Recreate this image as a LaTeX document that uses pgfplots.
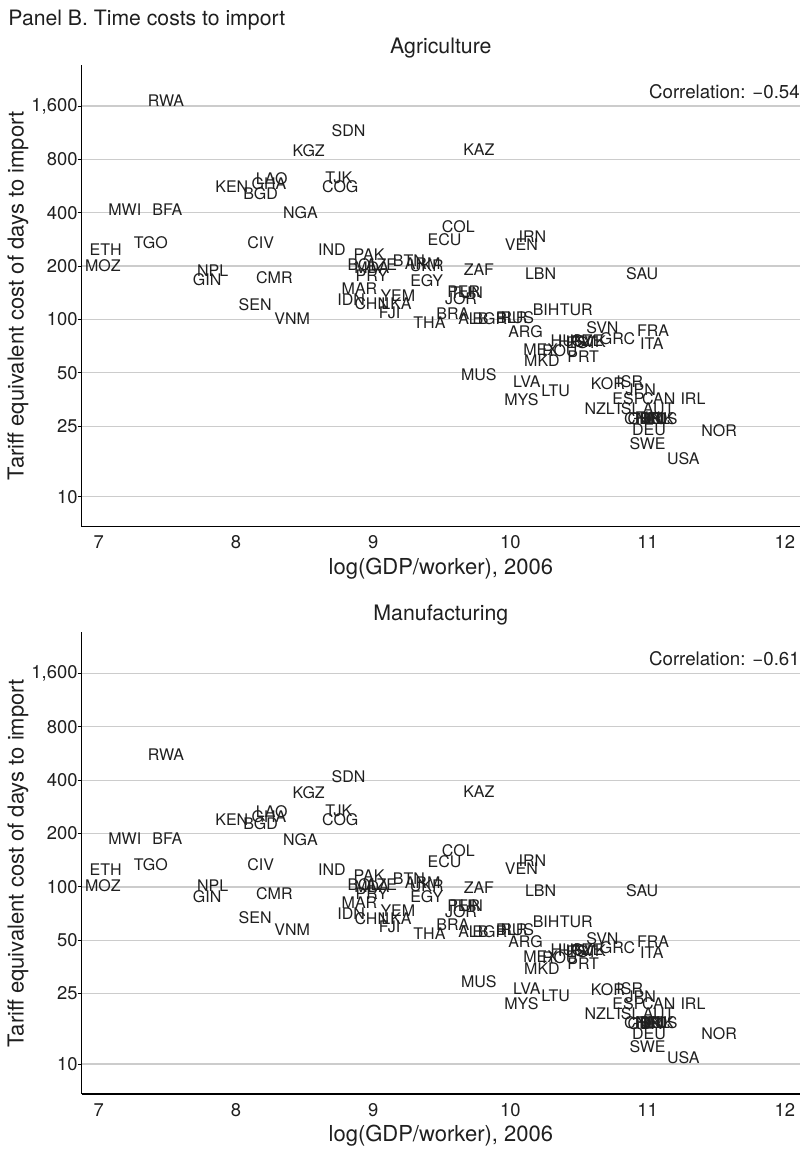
\documentclass[border=0pt]{standalone}
\usepackage{pgfplots}
\pgfplotsset{compat=1.18}
\usepackage{pgfplotstable}
\usepackage{fontspec}
\setmainfont{TeX Gyre Heros}
\definecolor{gridc}{gray}{0.80}
\definecolor{txt}{gray}{0.12}

\pgfplotstableread{
c x ag mf
RWA 7.49 1716 554
MWI 7.19 418 188
BFA 7.50 418 188
ETH 7.05 248 125
MOZ 7.03 200 102
TGO 7.38 272 134
NPL 7.83 188 101
GIN 7.79 167 88.6
KEN 7.97 561 238
BGD 8.18 515 226
GHA 8.24 581 249
LAO 8.26 626 265
CIV 8.18 272 134
CMR 8.28 172 91.8
SEN 8.14 121 67.2
VNM 8.41 101 57.4
NGA 8.47 400 184
KGZ 8.53 892 340
IND 8.70 248 125
TJK 8.75 634 268
COG 8.76 561 238
SDN 8.82 1162 418
IDN 8.84 129 70.7
MAR 8.90 150 81.2
BOL 8.93 205 103
PAK 8.97 231 116
MDA 8.99 197 100
PRY 8.99 176 91.8
CHN 8.99 122 66.3
AZE 9.06 205 103
FJI 9.12 109 59.4
LKA 9.17 123 66.3
YEM 9.18 137 73.8
BTN 9.26 216 111
ARM 9.36 207 106
UKR 9.39 200 102
EGY 9.39 165 87.8
THA 9.41 95.7 54.5
ECU 9.52 283 138
BRA 9.58 108 60.8
COL 9.62 333 160
JOR 9.64 131 72.2
PER 9.66 143 78.8
TUN 9.68 142 78.3
ALB 9.73 101 55.7
KAZ 9.77 912 344
ZAF 9.77 192 99
MUS 9.77 48.5 29.1
BGR 9.85 101 55.7
BLR 10.01 102 57.4
RUS 10.05 102 57.4
MYS 10.08 35.4 21.9
VEN 10.08 266 127
ARG 10.11 85 48.9
LVA 10.12 44.4 26.7
IRN 10.16 293 140
MEX 10.22 67.7 40.2
LBN 10.22 182 95
MKD 10.23 58.9 34.6
BIH 10.26 114 63.4
LTU 10.33 39.5 24.2
ROU 10.36 67 40
HUN 10.42 76 43.9
TUR 10.48 114 63.4
HRV 10.47 75 43.5
EST 10.52 74 43
PRT 10.53 62 36.9
CZE 10.56 76 44
SVK 10.58 75 43.5
SVN 10.67 90 51.1
NZL 10.65 31.4 19.3
KOR 10.71 43.5 26.3
GRC 10.78 78 45.5
ESP 10.86 35.8 21.8
ISL 10.86 31.4 19.3
ISR 10.87 44.4 26.7
JPN 10.95 39.9 24.0
SAU 10.96 182 95.5
CHE 10.95 27.6 17.1
GBR 10.98 27.4 17
FIN 11.00 27.8 17.2
SWE 11.00 20.0 12.6
DEU 11.01 23.7 14.9
NLD 11.03 27.5 17.1
ITA 11.03 73 42.4
FRA 11.04 86 48.9
BEL 11.05 27.6 17.1
DNK 11.07 27.7 17.2
CAN 11.08 35.8 21.8
AUT 11.08 31.4 19.3
AUS 11.10 27.6 17.1
USA 11.26 16.4 10.8
IRL 11.33 35.8 21.8
NOR 11.52 23.7 14.9
}\data

\pgfplotsset{
  panelstyle/.style={
  scale only axis, width=718.3pt, height=461.7pt,
  clip=false,
  xmin=6.876, xmax=12.11, ymin=6.77, ymax=2729,
  axis lines*=left,
  axis line style={draw=black, line width=1.2pt},
  xtick={7,8,9,10,11,12}, xticklabels={7,8,9,10,11,12},
  ytick={10,25,50,100,200,400,800,1600},
  yticklabels={10,25,50,100,200,400,800,{1,600}},
  minor ytick={},
  tick align=outside, major tick length=4pt,
  tick style={black, line width=1.0pt},
  xtick style={draw=none},
  ymajorgrids, grid style={gridc, line width=1.3pt},
  yticklabel style={anchor=east, inner sep=0pt, font=\fontsize{18.4}{21}\selectfont, text=txt},
  xticklabel style={anchor=north, inner sep=0pt, yshift=-5pt, font=\fontsize{18.4}{21}\selectfont, text=txt},
  every axis y label/.style={at={(rel axis cs:0,0.5)}, rotate=90, anchor=center, yshift=63.7pt, font=\fontsize{22}{25}\selectfont, text=txt},
  every axis x label/.style={at={(rel axis cs:0.5,0)}, anchor=base, yshift=-47.8pt, font=\fontsize{22}{25}\selectfont, text=txt},
  every axis title/.style={at={(rel axis cs:0.5,1)}, anchor=base, yshift=11.7pt, font=\fontsize{21.3}{25}\selectfont, text=txt},
  xlabel={log(GDP/worker), 2006}, ylabel={Tariff equivalent cost of days to import},
  },
  mylabs/.style={draw=none, mark=none, point meta=explicit symbolic,
    nodes near coords, nodes near coords align=center,
    every node near coord/.append style={anchor=center, inner sep=0pt, font=\fontsize{16}{19}\selectfont, text=txt}},
}

\begin{document}
\begin{tikzpicture}
\path[use as bounding box] (0,0) rectangle (806pt,1149pt);
\node[anchor=base west, inner sep=0pt, font=\fontsize{21.2}{25}\selectfont, text=txt] at (8.3pt,1123pt) {Panel B. Time costs to import};

\begin{axis}[ymode=log, panelstyle, anchor=south west, at={(81.7pt,622.3pt)}, title={Agriculture}]
\addplot[mylabs] table[x=x, y=ag, meta=c] {\data};
\node[anchor=base east, inner sep=0pt, font=\fontsize{18.7}{22}\selectfont, text=txt] at (axis cs:12.11,1600) [yshift=7.5pt] {Correlation: −0.54};
\end{axis}

\begin{axis}[ymode=log, panelstyle, anchor=south west, at={(81.7pt,54.9pt)}, title={Manufacturing}]
\addplot[mylabs] table[x=x, y=mf, meta=c] {\data};
\node[anchor=base east, inner sep=0pt, font=\fontsize{18.7}{22}\selectfont, text=txt] at (axis cs:12.11,1600) [yshift=7.5pt] {Correlation: −0.61};
\end{axis}
\end{tikzpicture}
\end{document}
